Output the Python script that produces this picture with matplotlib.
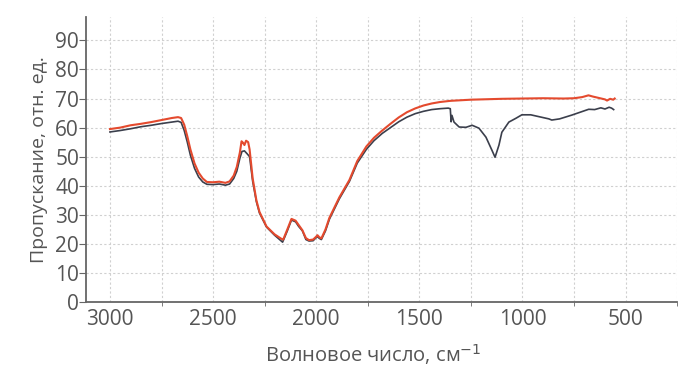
import matplotlib
matplotlib.use('Agg')
import matplotlib.pyplot as plt
import matplotlib.ticker as plticker

# red spectrum (wavenumber, transmittance)
red_x = [3000, 2950, 2900, 2850, 2800, 2750, 2700, 2670, 2655, 2640, 2625, 2610, 2590, 2570,
         2550, 2530, 2500, 2470, 2440, 2420, 2400, 2385, 2370, 2362, 2355, 2348, 2340, 2330,
         2323, 2308, 2290, 2275, 2241, 2202, 2170, 2160, 2140, 2120, 2100, 2085, 2067, 2050,
         2035, 2015, 2000, 1994, 1985, 1975, 1955, 1936, 1888, 1839, 1801, 1757, 1720, 1680,
         1640, 1600, 1560, 1520, 1480, 1440, 1400, 1350, 1300, 1250, 1200, 1100, 1000, 900,
         800, 750, 710, 680, 660, 630, 600, 590, 575, 560, 553]
red_y = [59.5, 60.0, 60.8, 61.3, 61.9, 62.6, 63.3, 63.6, 63.3, 61.0, 57.0, 52.5, 47.7, 44.5,
         42.5, 41.3, 41.2, 41.4, 41.0, 41.5, 43.5, 46.5, 51.5, 55.3, 54.8, 54.0, 55.5, 55.0,
         52.5, 42.5, 35.0, 31.0, 26.0, 23.3, 21.8, 21.5, 25.0, 28.6, 28.0, 26.5, 24.7, 22.0,
         21.3, 21.5, 22.5, 23.0, 22.3, 21.9, 25.0, 29.0, 36.0, 42.0, 48.5, 53.5, 56.5, 59.0,
         61.3, 63.5, 65.3, 66.6, 67.6, 68.3, 68.8, 69.2, 69.4, 69.6, 69.7, 69.9, 70.0, 70.1,
         70.0, 70.1, 70.5, 71.1, 70.7, 70.2, 69.7, 69.3, 69.9, 69.6, 70.0]

# dark spectrum
dark_x = [3000, 2950, 2900, 2850, 2800, 2750, 2700, 2670, 2655, 2640, 2625, 2610, 2590, 2570,
          2550, 2530, 2500, 2470, 2440, 2420, 2400, 2385, 2370, 2360, 2348, 2335, 2323, 2308,
          2290, 2275, 2241, 2202, 2163, 2140, 2120, 2100, 2085, 2067, 2050, 2035, 2015, 2000,
          1994, 1985, 1975, 1955, 1936, 1888, 1839, 1801, 1757, 1720, 1680, 1640, 1600, 1560,
          1520, 1480, 1440, 1400, 1360, 1350, 1346, 1342, 1332, 1307, 1274, 1244, 1211, 1177,
          1148, 1133, 1114, 1100, 1066, 1032, 1003, 960, 935, 872, 858, 820, 761, 720, 679,
          650, 620, 600, 580, 568, 558]
dark_y = [58.5, 59.0, 59.6, 60.3, 60.8, 61.4, 61.9, 62.2, 61.8, 59.0, 55.0, 50.5, 46.0, 43.0,
          41.3, 40.5, 40.4, 40.6, 40.2, 40.6, 42.5, 45.0, 49.5, 51.8, 52.0, 51.0, 50.0, 41.5,
          34.5, 30.6, 25.8, 23.0, 20.6, 24.5, 28.2, 27.6, 26.0, 24.5, 21.5, 21.0, 21.1, 22.2,
          22.5, 21.9, 21.5, 24.5, 28.5, 35.5, 41.5, 47.8, 52.5, 55.5, 58.0, 60.0, 62.0, 63.6,
          64.8, 65.6, 66.2, 66.5, 66.7, 66.5, 62.0, 64.2, 61.9, 60.2, 60.1, 60.8, 59.8, 56.7,
          52.2, 49.8, 54.0, 58.4, 61.9, 63.2, 64.4, 64.4, 64.0, 63.0, 62.6, 63.0, 64.3, 65.3,
          66.3, 66.2, 66.8, 66.4, 67.0, 66.7, 66.2]

plt.rcParams['font.family'] = ['Open Sans', 'DejaVu Sans']

fig = plt.figure(figsize=(6.91, 3.72), dpi=100)
ax = fig.add_axes([0.1245, 0.188, 0.8555, 0.766])

ax.plot(dark_x, dark_y, color='#3b3f4c', lw=1.2)
ax.plot(red_x, red_y, color='#e44a2e', lw=1.5)

ax.set_xlim(3116, 250)
ax.set_ylim(0, 98)

ax.xaxis.set_major_locator(plticker.MultipleLocator(500))
ax.xaxis.set_minor_locator(plticker.MultipleLocator(250))
ax.set_yticks(range(0, 100, 10))

ax.grid(which='both', axis='x', color='#d0d0d0', linestyle=(0, (2, 2)), lw=0.8)
ax.grid(which='major', axis='y', color='#d0d0d0', linestyle=(0, (2, 2)), lw=0.8)
ax.set_axisbelow(True)

for s in ['top', 'right']:
    ax.spines[s].set_visible(False)
for s in ['left', 'bottom']:
    ax.spines[s].set_color('#666666')
    ax.spines[s].set_linewidth(1.3)

ax.tick_params(axis='y', which='major', direction='out', length=5, color='#666666',
               labelsize=15, labelcolor='#555555', pad=0)
ax.tick_params(axis='x', which='major', length=0, labelsize=15, labelcolor='#555555', pad=5)
ax.tick_params(axis='x', which='minor', direction='out', length=3, color='#666666')

ax.set_xlabel('Волновое число, см$^{-1}$', fontsize=14.5, color='#555555', labelpad=9, x=0.485)
ax.set_ylabel('Пропускание, отн. ед.', fontsize=14, color='#555555', labelpad=5)

plt.savefig('out.png', dpi=100)
